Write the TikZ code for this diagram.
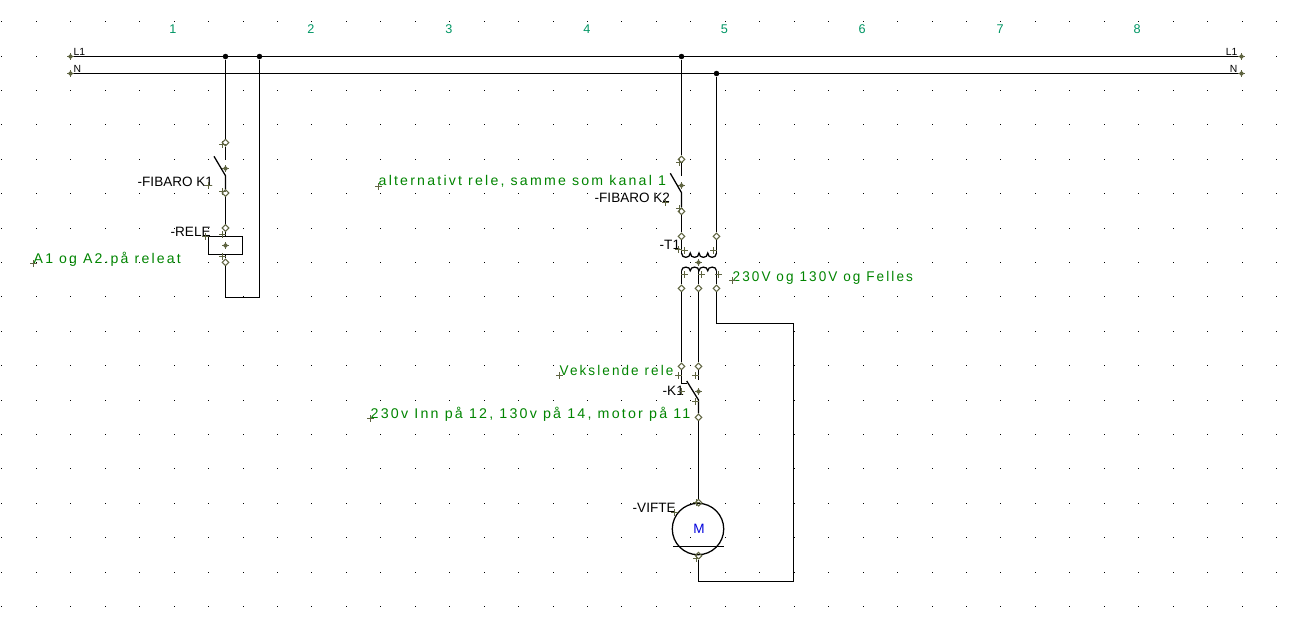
\documentclass[tikz,border=0pt]{standalone}
\usepackage{fontspec}
\usetikzlibrary{shapes.geometric}
\newfontfamily\blackfont{Liberation Sans}
\newfontfamily\greenfont[LetterSpace=15.5]{Liberation Sans}
\definecolor{pincol}{RGB}{95,100,65}
\definecolor{notecol}{RGB}{0,132,0}
\definecolor{colnum}{RGB}{0,150,100}
\definecolor{motorcol}{RGB}{0,0,220}
\tikzset{wire/.style={line width=0.36pt,black}}
\tikzset{jct/.style={circle,fill=black,minimum size=0.55mm,inner sep=0pt}}
\tikzset{pin/.style={draw=pincol,line width=0.3pt,diamond,minimum size=0.7mm,inner sep=0pt}}
\tikzset{ref/.style={anchor=base west,inner sep=0pt,font=\blackfont\fontsize{3.85}{4}\selectfont}}
\tikzset{bus/.style={inner sep=0pt,font=\blackfont\fontsize{2.95}{4}\selectfont}}
\tikzset{note/.style={anchor=base west,inner sep=0pt,text=notecol,transform shape,font=\greenfont\fontsize{4}{4}\selectfont}}
\tikzset{col/.style={inner sep=0pt,text=colnum,font=\blackfont\fontsize{3.6}{4}\selectfont}}
\tikzset{relbox/.style={draw,line width=0.36pt,minimum width=3.44mm,minimum height=1.76mm,inner sep=0pt}}
\tikzset{plusmark/.pic={\draw[pincol,line width=0.3pt] (-3.5,0) -- (3.5,0) (0,-3.5) -- (0,3.5);}}
\tikzset{starmark/.pic={\draw[pincol,line width=0.3pt] (-3.5,0) -- (3.5,0) (0,-3.5) -- (0,3.5);
 \fill[pincol] (0,0) circle[radius=2.1];}}

\begin{document}
\begin{tikzpicture}[x=0.01cm,y=-0.01cm]
\useasboundingbox (0,0) rectangle (1301,639);

\foreach \i in {0,...,37}
 \foreach \j in {0,...,17}
  \fill[black] ({1.8+34.45*\i-0.45},{21.7+34.4*\j-0.45}) rectangle +(0.95,0.95);

\foreach \n/\x in {1/173,2/311,3/449,4/587,5/724.5,6/862,7/1000,8/1137}
 \node[col] (col\n) at (\x,29) {\n};

\coordinate (l1w) at (70.5,56.5);
\coordinate (l1e) at (1241.5,56.5);
\coordinate (nw) at (70.5,73.5);
\coordinate (ne) at (1241.5,73.5);
\node[jct] (ja) at (225.5,56.5) {};
\node[jct] (jb) at (259.5,56.5) {};
\node[jct] (jc) at (681.5,56.5) {};
\node[jct] (jd) at (716.5,73.5) {};
\draw[wire] (l1w) -- (l1e);
\draw[wire] (nw) -- (ne);
\node[bus,anchor=base west] (l1a) at (73,55) {L1};
\node[bus,anchor=base west] (na) at (73,72) {N};
\node[bus,anchor=base east] (l1b) at (1238,55) {L1};
\node[bus,anchor=base east] (nb) at (1238,72) {N};

% first branch
\node[pin] (kat) at (225.5,142.7) {};
\node[pin] (kab) at (225.5,193) {};
\node[pin] (rlt) at (225.5,228) {};
\node[pin] (rlb) at (225.5,262.3) {};
\node[relbox] (rl) at (225.5,245.5) {};
\coordinate (kaup) at (225.5,160);
\coordinate (kafree) at (214,156.3);
\coordinate (kapiv) at (225.5,175.7);
\coordinate (rla) at (225.5,297.5);
\coordinate (rlc) at (259.5,297.5);
\draw[wire] (ja) -- (kat);
\draw[wire] (kat) -- (kaup);
\draw[wire] (kafree) -- (kapiv) -- (kab);
\draw[wire] (kab) -- (rlt);
\draw[wire] (rlt) -- (rl.north -| rlt);
\draw[wire] (rl.south -| rlb) -- (rlb);
\draw[wire] (rlb) -- (rla) -- (rlc) -- (jb);

\node[ref] (fka) at (137,186) {-FIBARO K1};
\node[ref] (rel) at (170,236.7) {-RELE};
\node[note] (nta) at (33,263) {A1 og A2.på releat};

% second branch
\node[pin] (kbt) at (681.5,159.3) {};
\node[pin] (kbb) at (681.5,211.3) {};
\node[pin] (tpa) at (681.5,236.3) {};
\node[pin] (tpb) at (716.5,236.3) {};
\node[pin] (tsa) at (681.5,288.3) {};
\node[pin] (tsb) at (698.5,288.3) {};
\node[pin] (tsc) at (716.5,288.3) {};
\coordinate (kbup) at (681.5,176);
\coordinate (kbfree) at (670.3,173.3);
\coordinate (kbpiv) at (681.5,192.7);
\coordinate (cpa) at (681.5,253);
\coordinate (cpb) at (716.5,253);
\coordinate (csa) at (681.5,270.7);
\coordinate (csb) at (698.5,270);
\coordinate (csc) at (716.5,270.7);
\draw[wire] (jc) -- (kbt);
\draw[wire] (kbt) -- (kbup);
\draw[wire] (kbfree) -- (kbpiv) -- (kbb);
\draw[wire] (kbb) -- (tpa);
\draw[wire] (jd) -- (tpb);
\draw[wire] (tpa) -- (cpa);
\draw[wire] (tpb) -- (cpb);
\draw[wire] (cpa) \foreach \i in {1,...,4} { to[out=-90,in=-90,looseness=1.7] ++(8.75,0) };
\draw[wire] (csa) \foreach \i in {1,...,4} { to[out=90,in=90,looseness=1.4] ++(8.75,0) };
\draw[wire] (csa) -- (tsa);
\draw[wire] (csb) -- (tsb);
\draw[wire] (csc) -- (tsc);

\node[note,xscale=1.007] (ntb) at (378,185.7) {alternativt rele, samme som kanal 1};
\node[ref] (fkb) at (594,202.7) {-FIBARO K2};
\node[ref] (tl) at (659,249.5) {-T1};
\node[note,xscale=0.963] (ntc) at (732,281) {230V og 130V og Felles};

% changeover relay and motor
\node[pin] (kca) at (681.5,366.3) {};
\node[pin] (kcb) at (698.5,366.3) {};
\node[pin] (kcc) at (698.5,417.3) {};
\coordinate (kcd) at (681.5,383.5);
\coordinate (kce) at (686.7,383.5);
\coordinate (kcf) at (698.5,380);
\coordinate (kcg) at (686.7,381);
\coordinate (kch) at (698.5,400);
\draw[wire] (tsa) -- (kca);
\draw[wire] (tsb) -- (kcb);
\draw[wire] (kca) -- (kcd) -- (kce);
\draw[wire] (kcb) -- (kcf);
\draw[wire] (kcg) -- (kch) -- (kcc);

\node[ref] (kl) at (662,395.7) {-K1};
\node[note,xscale=0.96] (ntd) at (559,375) {Vekslende rele};
\node[note,xscale=1.013] (nte) at (370,418) {230v Inn på 12, 130v på 14, motor på 11};

\node[draw,circle,line width=0.36pt,minimum size=5.14mm,inner sep=0pt] (mot) at (698,529) {};
\node[inner sep=0pt,text=motorcol,font=\blackfont\fontsize{3.85}{4}\selectfont] (mtxt) at (699,529) {M};
\node[pin] (mta) at (698.5,502.7) {};
\node[pin] (mtb) at (698.5,555.7) {};
\coordinate (bara) at (673.3,546.5);
\coordinate (barb) at (724,546.5);
\coordinate (wra) at (716.5,323.5);
\coordinate (wrb) at (793.5,323.5);
\coordinate (wrc) at (793.5,581.5);
\coordinate (wrd) at (698.5,581.5);
\draw[wire] (bara) -- (barb);
\draw[wire] (kcc) -- (mta);
\draw[wire] (tsc) -- (wra) -- (wrb) -- (wrc) -- (wrd) -- (mtb);
\node[ref] (vft) at (632,512.7) {-VIFTE};

\foreach \p in {(70.5,56.5),(70.5,73.5),(1241.5,56.5),(1241.5,73.5),(225.5,168.5),(225.5,245.5),(681.5,185.5),(698.5,262.5),(698.5,391.5)}
 \pic at \p {starmark};
\foreach \p in {(222.5,144.5),(222.5,191.5),(222.5,234.5),(222.5,256.5),(208.5,185.5),(205.5,236.5),
 (679.5,162.5),(679.5,208.5),(665.5,202.5),(678.5,249.5),(684.5,250.5),(713.5,250.5),(684.5,274.5),(701.5,274.5),(718.5,274.5),
 (678.5,375.5),(695.5,375.5),(695.5,401.5),(681.5,391.5),(696.5,502.5),(696.5,558.5),(674.5,512.5),
 (33.5,263.5),(378.5,186.5),(370.5,418.5),(559.5,375.5),(732.5,280.5)}
 \pic at \p {plusmark};

\end{tikzpicture}
\end{document}
